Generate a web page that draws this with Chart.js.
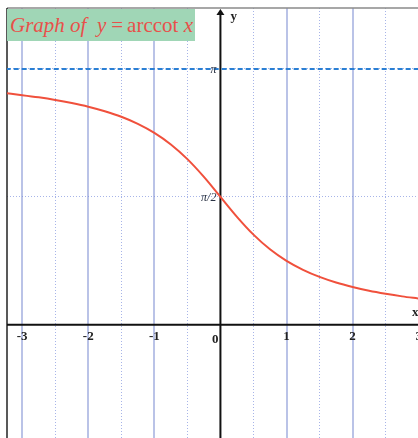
<!DOCTYPE html>
<html>
<head>
<meta charset="utf-8">
<title>Graph of y = arccot x</title>
<script src="https://cdn.jsdelivr.net/npm/chart.js@4/dist/chart.umd.min.js"></script>
<style>
  body { margin: 0; background: #fff; }
  #wrap { position: relative; width: 418px; height: 438px; overflow: hidden; }
  #title {
    position: absolute; left: 7px; top: 9px; width: 188px; height: 32px;
    background: #a0d6b6; color: #e8504a; box-sizing: border-box; padding-left: 3px;
    font-family: "Liberation Serif", serif; font-size: 21px; line-height: 32px; white-space: nowrap;
  }
  #title i { font-style: italic; }
  #title .op { margin: 0 4px 0 5px; }
</style>
</head>
<body>
<div id="wrap">
  <canvas id="chart" width="418" height="438"></canvas>
  <div id="title"><i>Graph of</i>&nbsp; <i>y</i><span class="op">=</span>arccot<i> x</i></div>
</div>
<script>
// values
const xValues = [-3.25, -3, -2.75, -2.5, -2.25, -2, -1.75, -1.5, -1.25, -1, -0.75, -0.5, -0.25,
                 0, 0.25, 0.5, 0.75, 1, 1.25, 1.5, 1.75, 2, 2.25, 2.5, 2.75, 3];
const yValues = [2.844, 2.820, 2.793, 2.761, 2.723, 2.678, 2.622, 2.554, 2.467, 2.356, 2.214, 2.034, 1.816,
                 1.571, 1.326, 1.107, 0.927, 0.785, 0.675, 0.588, 0.519, 0.464, 0.418, 0.381, 0.349, 0.322];
const asymptoteX = [-3.25, 3];
const asymptoteY = [3.1416, 3.1416];

const xGrid = [-3, -2.5, -2, -1.5, -1, -0.5, 0, 0.5, 1, 1.5, 2, 2.5, 3];
const xTickValues = [-3, -2, -1, 1, 2, 3];
const xTickLabels = ["-3", "-2", "-1", "1", "2", "3"];
const yTickValues = [1.5708, 3.1416];
const yTickLabels = ["π/2", "π"];

const axesPlugin = {
  id: "axes",
  beforeDatasetsDraw(chart) {
    const { ctx, chartArea: a, scales: { x, y } } = chart;
    const x0 = x.getPixelForValue(0);
    const y0 = y.getPixelForValue(0);
    ctx.save();
    // frame
    ctx.strokeStyle = "#8a8a8a";
    ctx.lineWidth = 1.5;
    ctx.beginPath(); ctx.moveTo(a.left, a.top); ctx.lineTo(a.right, a.top); ctx.stroke();
    ctx.strokeStyle = "#222";
    ctx.beginPath(); ctx.moveTo(a.left, a.top); ctx.lineTo(a.left, a.bottom); ctx.stroke();
    // axes
    ctx.strokeStyle = "#111";
    ctx.lineWidth = 2;
    ctx.beginPath();
    ctx.moveTo(x0, a.bottom); ctx.lineTo(x0, a.top + 4);
    ctx.moveTo(a.left, y0); ctx.lineTo(a.right, y0);
    ctx.stroke();
    ctx.fillStyle = "#111";
    ctx.beginPath();
    ctx.moveTo(x0, a.top + 1); ctx.lineTo(x0 - 4, a.top + 7); ctx.lineTo(x0 + 4, a.top + 7);
    ctx.closePath(); ctx.fill();
    ctx.restore();
  },
  afterDraw(chart) {
    const { ctx, scales: { x, y } } = chart;
    const x0 = x.getPixelForValue(0);
    const y0 = y.getPixelForValue(0);
    ctx.save();
    ctx.fillStyle = "#222";
    ctx.font = 'bold 13px "Liberation Serif"';
    ctx.textAlign = "center";
    ctx.textBaseline = "middle";
    xTickValues.forEach((v, i) => {
      ctx.fillText(xTickLabels[i], x.getPixelForValue(v), y0 + 12);
    });
    ctx.textAlign = "right";
    ctx.fillText("0", x0 - 2, y0 + 15);
    ctx.textAlign = "left";
    ctx.fillText("y", x0 + 10, 17);
    ctx.fillText("x", 412, y0 - 12);
    ctx.fillStyle = "#2a3344";
    ctx.font = 'italic 12px "Liberation Serif"';
    ctx.textAlign = "right";
    yTickValues.forEach((v, i) => {
      ctx.fillText(yTickLabels[i], x0 - 4, y.getPixelForValue(v) + 1);
    });
    ctx.restore();
  }
};

new Chart(document.getElementById("chart"), {
  type: "line",
  data: {
    datasets: [
      {
        data: xValues.map((v, i) => ({ x: v, y: yValues[i] })),
        borderColor: "#f0503c",
        borderWidth: 2,
        pointRadius: 0,
        cubicInterpolationMode: "monotone"
      },
      {
        data: asymptoteX.map((v, i) => ({ x: v, y: asymptoteY[i] })),
        borderColor: "#2a7fd4",
        borderWidth: 2,
        borderDash: [5, 3],
        pointRadius: 0
      }
    ]
  },
  options: {
    responsive: false,
    animation: false,
    layout: { padding: { left: 7, top: 8, right: 0, bottom: 0 } },
    plugins: { legend: { display: false }, tooltip: { enabled: false } },
    scales: {
      x: {
        type: "linear",
        min: -3.23,
        max: 2.99,
        afterBuildTicks: s => { s.ticks = xGrid.map(v => ({ value: v })); },
        ticks: { display: false },
        border: {
          display: false,
          dash: c => (c.tick && c.tick.value % 1 !== 0 ? [1, 2] : [])
        },
        grid: {
          drawTicks: false,
          color: c => (c.tick && c.tick.value === 0 ? "rgba(0,0,0,0)" :
                       c.tick && c.tick.value % 1 === 0 ? "rgba(140,155,215,0.6)" : "rgba(120,140,220,0.65)"),
          lineWidth: c => (c.tick && c.tick.value % 1 === 0 ? 2 : 1)
        }
      },
      y: {
        min: -1.39,
        max: 3.89,
        afterBuildTicks: s => { s.ticks = yTickValues.map(v => ({ value: v })); },
        ticks: { display: false },
        border: { display: false, dash: [1, 2] },
        grid: { drawTicks: false, color: "rgba(120,140,220,0.65)", lineWidth: 1 }
      }
    }
  },
  plugins: [axesPlugin]
});
</script>
</body>
</html>
